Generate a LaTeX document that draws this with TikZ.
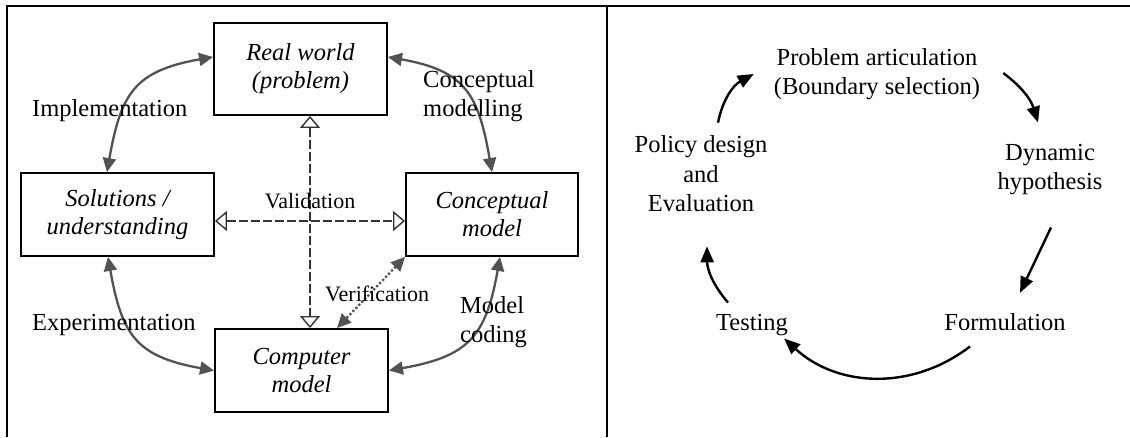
\documentclass[tikz,border=0pt]{standalone}
\usepackage{fontspec}
\setmainfont{Liberation Serif}
\usetikzlibrary{arrows.meta, positioning, calc}

\begin{document}
\begin{tikzpicture}[x=1pt, y=1pt,
    modelbox/.style={draw, line width=1.9pt, inner sep=0pt, minimum width=173pt, minimum height=83pt, align=center, font=\fontsize{24.5}{28}\selectfont\itshape},
    link/.style={color=black!68, line width=2.3pt, {Triangle[length=14pt,width=13pt]}-{Triangle[length=14pt,width=13pt]}},
    check/.style={color=black!80, line width=1.4pt, dash pattern=on 9pt off 3pt, {Triangle[open,length=12pt,width=20pt]}-{Triangle[open,length=12pt,width=20pt]}},
    lbl/.style={inner sep=0pt, font=\fontsize{24.5}{29}\selectfont},
    small/.style={inner sep=0pt, font=\fontsize{22}{26}\selectfont},
    cyclearrow/.style={line width=2.4pt, -{Triangle[length=16pt,width=13pt]}}]
\useasboundingbox (0,0) rectangle (1130,437);
% frame
\draw[line width=2.8pt] (7,0) -- (7,431) -- (1130,431) (607,431) -- (607,0);

% left: simulation modelling
\node[modelbox, minimum height=92pt] (real) at (300.5,368) {Real world\\(problem)};
\node[modelbox, minimum width=193pt] (sol) at (117.5,222.5) {Solutions /\\understanding};
\node[modelbox, minimum width=172pt] (concept) at (492,222.5) {Conceptual\\model};
\node[modelbox] (computer) at (301.5,66.5) {Computer\\model};

\draw[link] ($(sol.north)+(-10.5,0)$) to[out=80, in=190, looseness=1.3] ($(real.west)+(0,12)$);
\draw[link] ($(real.east)+(0,12)$) to[out=-10, in=100, looseness=1.3] (concept.north);
\draw[link] ($(sol.south)+(-9.5,0)$) to[out=-80, in=170, looseness=1.3] (computer.west);
\draw[link] ($(concept.south)+(8,0)$) to[out=-100, in=10, looseness=1.3] (computer.east);
\draw[check] ($(sol.east)+(0,-6.5)$) -- ($(concept.west)+(0,-6.5)$);
\draw[check] ($(real.south)+(9.5,0)$) -- ($(computer.north)+(8.5,0)$);
\draw[link, dotted] (concept.south west) -- ($(computer.north)+(35.5,0)$);

\node[lbl, anchor=base west] (impl) at (32,320) {Implementation};
\node[lbl, anchor=west, align=left] (modelling) at (423,341) {Conceptual\\modelling};
\node[lbl, anchor=base west] (exper) at (32,107) {Experimentation};
\node[lbl, anchor=west, align=left] (coding) at (460,115) {Model\\coding};
\node[small, anchor=base] (valid) at (310,228) {Validation};
\node[small, anchor=base west] (verif) at (325,136) {Verification};

% right: modelling cycle
\node[lbl, align=center] (problem) at (877,363) {Problem articulation\\(Boundary selection)};
\node[lbl, align=center] (dynamic) at (1050,267) {Dynamic\\hypothesis};
\node[lbl, anchor=base] (formulation) at (1005,107) {Formulation};
\node[lbl, anchor=base] (testing) at (752,107) {Testing};
\node[lbl, align=center, font=\fontsize{24.5}{29.5}\selectfont] (policy) at (701,263) {Policy design\\and\\Evaluation};

\draw[cyclearrow] ($(policy.north)+(17,13)$) to[bend left=25] ($(problem.west)+(-20,0)$);
\draw[cyclearrow] ($(problem.east)+(23,1)$) to[bend left=18] ($(dynamic.north)+(-12,22)$);
\draw[cyclearrow] ($(dynamic.south)+(1,-32)$) -- ($(formulation.north)+(15,20)$);
\draw[cyclearrow] ($(formulation.south)+(-35,-16)$) to[bend left=40] ($(testing.south east)+(-4,-3)$);
\draw[cyclearrow] ($(testing.north)+(-24,11)$) to[bend left=20] ($(policy.south)+(6,-34)$);
\end{tikzpicture}
\end{document}
